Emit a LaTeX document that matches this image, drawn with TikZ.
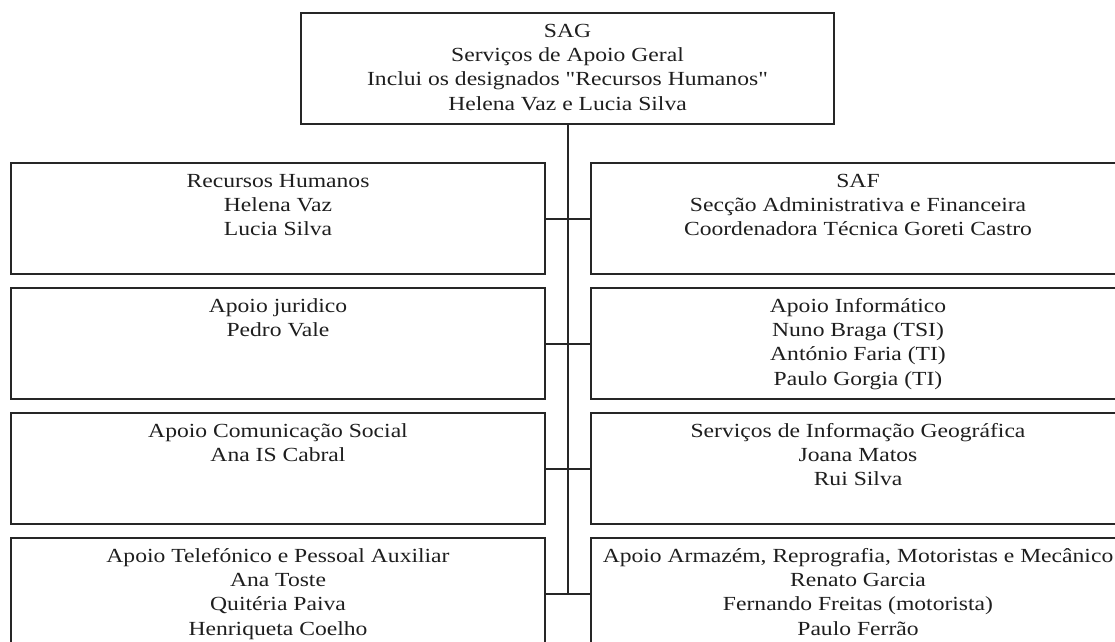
\documentclass[tikz,border=0pt]{standalone}
\usepackage{fontspec}
\newfontfamily\bodyfont{Liberation Serif}[FakeStretch=1.18]
\usetikzlibrary{calc}
\definecolor{linec}{HTML}{262626}
\definecolor{textc}{HTML}{1E1E1E}
\tikzset{
  box/.style={draw=linec, line width=2pt, rectangle, inner sep=0pt,
    minimum width=534pt, minimum height=111pt, anchor=north west},
  topbox/.style={box, minimum width=533pt},
  label/.style={anchor=north, inner sep=0pt, align=center, text=textc,
    font=\bodyfont\fontsize{20}{24.3}\selectfont},
  conn/.style={draw=linec, line width=2pt}
}
\newcommand{\fs}{\rule{0pt}{15pt}}
\begin{document}
\begin{tikzpicture}[x=1pt,y=-1pt]
\useasboundingbox (0,0) rectangle (1115,641);
% top
\node[topbox] (top) at (300,12) {};
\node[label] (ttop) at ([yshift=-10pt]top.north) {\fs SAG\\Serviços de Apoio Geral\\Inclui os designados "Recursos Humanos"\\Helena Vaz e Lucia Silva};
% left column
\node[box] (L1) at (10,162) {};
\node[box] (L2) at (10,287) {};
\node[box] (L3) at (10,412) {};
\node[box] (L4) at (10,537) {};
% right column
\node[box] (R1) at (590,162) {};
\node[box] (R2) at (590,287) {};
\node[box] (R3) at (590,412) {};
\node[box] (R4) at (590,537) {};
% texts
\node[label] (tL1) at ([yshift=-10pt]L1.north) {\fs Recursos Humanos\\Helena Vaz\\Lucia Silva};
\node[label] (tL2) at ([yshift=-10pt]L2.north) {\fs Apoio juridico\\Pedro Vale};
\node[label] (tL3) at ([yshift=-10pt]L3.north) {\fs Apoio Comunicação Social\\Ana IS Cabral};
\node[label] (tL4) at ([yshift=-10pt]L4.north) {\fs Apoio Telefónico e Pessoal Auxiliar\\Ana Toste\\Quitéria Paiva\\Henriqueta Coelho};
\node[label] (tR1) at ([yshift=-10pt]R1.north) {\fs SAF\\Secção Administrativa e Financeira\\Coordenadora Técnica Goreti Castro};
\node[label] (tR2) at ([yshift=-10pt]R2.north) {\fs Apoio Informático\\Nuno Braga (TSI)\\António Faria (TI)\\Paulo Gorgia (TI)};
\node[label] (tR3) at ([yshift=-10pt]R3.north) {\fs Serviços de Informação Geográfica\\Joana Matos\\Rui Silva};
\node[label] (tR4) at ([yshift=-10pt]R4.north) {\fs Apoio Armazém, Reprografia, Motoristas e Mecânico\\Renato Garcia\\Fernando Freitas (motorista)\\Paulo Ferrão};
% connectors
\draw[conn] (top.south) -- (top.south |- L4.east);
\draw[conn] (L1.east) -- (R1.west);
\draw[conn] (L2.east) -- (R2.west);
\draw[conn] (L3.east) -- (R3.west);
\draw[conn] (L4.east) -- (R4.west);
\end{tikzpicture}
\end{document}
